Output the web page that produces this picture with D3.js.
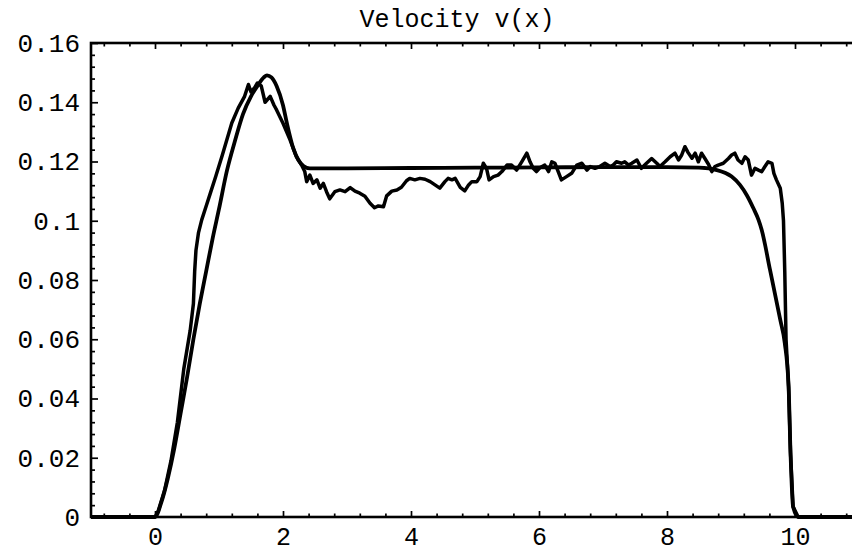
<!DOCTYPE html>
<html>
<head>
<meta charset="utf-8">
<script src="https://cdn.jsdelivr.net/npm/d3@7"></script>
<style>
  body { margin: 0; background: #fff; }
  svg { display: block; }
  .tick text { font-family: "Liberation Mono", "DejaVu Sans Mono", monospace; }
</style>
</head>
<body>
<svg></svg>
<script>

var width = 852, height = 552;

// smooth (theory) curve
var smoothX = [-1, 0, 0.1, 0.2, 0.3, 0.4, 0.5, 0.6, 0.7, 0.8, 0.9, 1.0, 1.125, 1.25, 1.375, 1.5, 1.61, 1.7, 1.75, 1.82, 1.9, 2.0, 2.06, 2.16, 2.24, 2.32, 2.42, 3, 4, 5, 6, 7, 8, 8.5, 8.78, 9.01, 9.14, 9.245, 9.35, 9.43, 9.48, 9.61, 9.77, 9.84, 9.9, 9.93, 9.97, 10.05, 11];
var smoothV = [0, 0, 0.005, 0.013, 0.023, 0.035, 0.047, 0.060, 0.072, 0.083, 0.094, 0.104, 0.117, 0.127, 0.136, 0.142, 0.1458, 0.1484, 0.1491, 0.1484, 0.1455, 0.139, 0.133, 0.1245, 0.1205, 0.1185, 0.1177, 0.1177, 0.1178, 0.1179, 0.118, 0.1181, 0.1181, 0.1179, 0.1171, 0.1149, 0.1121, 0.1087, 0.1042, 0.1003, 0.0969, 0.0834, 0.0665, 0.0587, 0.044, 0.0216, 0.0035, 0, 0];

// noisy (simulation) curve
var noisyX = [-1, 0, 0.05, 0.15, 0.25, 0.35, 0.45, 0.55, 0.6, 0.62, 0.64, 0.68, 0.73, 0.8, 0.86, 0.95, 1.05, 1.2, 1.3, 1.4, 1.46, 1.5, 1.56, 1.6, 1.66, 1.72, 1.8, 1.86, 1.9, 2.0, 2.11, 2.21, 2.29, 2.34, 2.37, 2.42, 2.47, 2.53, 2.58, 2.63, 2.68, 2.73, 2.81, 2.89, 2.97, 3.05, 3.125, 3.2, 3.28, 3.36, 3.43, 3.49, 3.57, 3.62, 3.7, 3.78, 3.85, 3.93, 3.98, 4.06, 4.14, 4.22, 4.3, 4.375, 4.45, 4.53, 4.58, 4.64, 4.69, 4.77, 4.84, 4.9, 4.95, 5.03, 5.08, 5.13, 5.18, 5.22, 5.29, 5.36, 5.42, 5.5, 5.57, 5.65, 5.73, 5.81, 5.86, 5.91, 5.96, 6.02, 6.09, 6.15, 6.2, 6.25, 6.3, 6.35, 6.43, 6.51, 6.59, 6.67, 6.75, 6.8, 6.875, 6.95, 7.03, 7.11, 7.16, 7.21, 7.29, 7.34, 7.4, 7.45, 7.53, 7.6, 7.68, 7.76, 7.84, 7.89, 7.97, 8.05, 8.125, 8.18, 8.23, 8.28, 8.33, 8.39, 8.44, 8.49, 8.54, 8.59, 8.65, 8.7, 8.75, 8.8, 8.88, 8.96, 9.01, 9.06, 9.11, 9.17, 9.22, 9.27, 9.32, 9.375, 9.43, 9.48, 9.53, 9.58, 9.64, 9.67, 9.71, 9.77, 9.8, 9.82, 9.84, 9.86, 9.9, 9.93, 9.97, 10.05, 11];
var noisyV = [0, 0, 0.002, 0.009, 0.019, 0.032, 0.050, 0.063, 0.072, 0.083, 0.090, 0.096, 0.1003, 0.105, 0.109, 0.115, 0.122, 0.133, 0.138, 0.142, 0.146, 0.1435, 0.145, 0.1465, 0.1455, 0.140, 0.142, 0.139, 0.1374, 0.1329, 0.1273, 0.1216, 0.1188, 0.1166, 0.1132, 0.1154, 0.1126, 0.1138, 0.111, 0.1126, 0.1098, 0.1074, 0.1098, 0.1104, 0.1098, 0.1112, 0.1100, 0.1093, 0.1083, 0.1059, 0.1044, 0.1050, 0.1047, 0.1084, 0.1100, 0.1104, 0.1113, 0.1135, 0.1143, 0.1138, 0.1143, 0.114, 0.1132, 0.1121, 0.111, 0.1132, 0.1143, 0.1138, 0.1143, 0.1113, 0.1101, 0.1121, 0.1132, 0.1132, 0.1149, 0.1194, 0.1177, 0.1138, 0.1149, 0.1154, 0.1166, 0.1188, 0.1188, 0.1171, 0.1199, 0.1228, 0.1199, 0.1177, 0.1166, 0.1180, 0.1188, 0.1166, 0.1199, 0.1194, 0.1166, 0.1138, 0.1149, 0.116, 0.1188, 0.1194, 0.1171, 0.1183, 0.1177, 0.1183, 0.1194, 0.1183, 0.1188, 0.1199, 0.1194, 0.1199, 0.1188, 0.1194, 0.1205, 0.1177, 0.1194, 0.121, 0.1194, 0.1183, 0.1199, 0.1216, 0.1228, 0.1205, 0.1222, 0.1250, 0.1230, 0.1211, 0.1228, 0.1199, 0.1228, 0.1211, 0.119, 0.1166, 0.1183, 0.1188, 0.1194, 0.121, 0.1222, 0.1228, 0.1205, 0.1194, 0.1216, 0.1205, 0.1154, 0.1177, 0.1171, 0.1166, 0.1183, 0.1199, 0.1194, 0.116, 0.1138, 0.111, 0.106, 0.100, 0.083, 0.060, 0.044, 0.0216, 0.0035, 0, 0];

var xTicks = [0, 2, 4, 6, 8, 10];
var xTickLabels = ["0", "2", "4", "6", "8", "10"];
var yTicks = [0, 0.02, 0.04, 0.06, 0.08, 0.1, 0.12, 0.14, 0.16];
var yTickLabels = ["0", "0.02", "0.04", "0.06", "0.08", "0.1", "0.12", "0.14", "0.16"];
var title = "Velocity v(x)";

var plotLeft = 91, plotTop = 43, plotBottom = 517;

var svg = d3.select('svg')
    .attr('width', width)
    .attr('height', height);

var xScale = d3.scaleLinear()
    .domain([-1, 11])
    .range([plotLeft, plotLeft + 12 * 64]);

var yScale = d3.scaleLinear()
    .domain([0, 0.16])
    .range([plotBottom, plotTop]);

// minor tick positions (5 per major step)
var xMinor = d3.range(-0.8, 11, 0.4).filter(function(d) { return Math.abs(d / 2 - Math.round(d / 2)) > 1e-6; });
var yMinor = d3.range(0.004, 0.16, 0.004).filter(function(d) { return Math.abs(d / 0.02 - Math.round(d / 0.02)) > 1e-6; });

var fontFam = '"Liberation Mono", "DejaVu Sans Mono", monospace';

// frame
svg.append("rect")
    .attr("x", plotLeft)
    .attr("y", plotTop)
    .attr("width", xScale(11) - plotLeft)
    .attr("height", plotBottom - plotTop)
    .attr("fill", "none")
    .style("stroke", "black")
    .style("stroke-width", 2.6);

function styleAxis(g) {
    g.select(".domain").remove();
    g.selectAll(".tick line").style("stroke", "black").style("stroke-width", 1.7);
}

// bottom axis
svg.append("g")
    .attr("transform", "translate(0," + plotBottom + ")")
    .call(d3.axisBottom(xScale).tickValues(xTicks).tickSize(-6).tickPadding(10)
        .tickFormat(function(d, i) { return xTickLabels[i]; }))
    .call(styleAxis)
    .selectAll("text")
    .style("font-family", fontFam)
    .style("font-size", "25px")
    .style("fill", "black");

svg.append("g")
    .attr("transform", "translate(0," + plotBottom + ")")
    .call(d3.axisBottom(xScale).tickValues(xMinor).tickSize(-3.5).tickFormat(""))
    .call(styleAxis);

// top axis (ticks only)
svg.append("g")
    .attr("transform", "translate(0," + plotTop + ")")
    .call(d3.axisTop(xScale).tickValues(xTicks).tickSize(-6).tickFormat(""))
    .call(styleAxis);

svg.append("g")
    .attr("transform", "translate(0," + plotTop + ")")
    .call(d3.axisTop(xScale).tickValues(xMinor).tickSize(-3.5).tickFormat(""))
    .call(styleAxis);

// left axis
svg.append("g")
    .attr("transform", "translate(" + plotLeft + ",0)")
    .call(d3.axisLeft(yScale).tickValues(yTicks).tickSize(-7).tickPadding(11)
        .tickFormat(function(d, i) { return yTickLabels[i]; }))
    .call(styleAxis)
    .selectAll("text")
    .style("font-family", fontFam)
    .style("font-size", "26px")
    .style("fill", "black");

svg.append("g")
    .attr("transform", "translate(" + plotLeft + ",0)")
    .call(d3.axisLeft(yScale).tickValues(yMinor).tickSize(-4).tickFormat(""))
    .call(styleAxis);

// curves
var lineSmooth = d3.line()
    .x(function(d) { return xScale(d[0]); })
    .y(function(d) { return yScale(d[1]); })
    .curve(d3.curveMonotoneX);

var lineNoisy = d3.line()
    .x(function(d) { return xScale(d[0]); })
    .y(function(d) { return yScale(d[1]); });

svg.append("path")
    .datum(d3.zip(smoothX, smoothV))
    .attr("d", lineSmooth)
    .attr("fill", "none")
    .style("stroke", "black")
    .style("stroke-width", 3.8)
    .style("stroke-linejoin", "round");

svg.append("path")
    .datum(d3.zip(noisyX, noisyV))
    .attr("d", lineNoisy)
    .attr("fill", "none")
    .style("stroke", "black")
    .style("stroke-width", 3.5)
    .style("stroke-linejoin", "round");

// title
svg.append("text")
    .attr("x", 457)
    .attr("y", 27)
    .attr("text-anchor", "middle")
    .style("font-family", fontFam)
    .style("font-size", "25px")
    .style("fill", "black")
    .text(title);

</script>
</body>
</html>
